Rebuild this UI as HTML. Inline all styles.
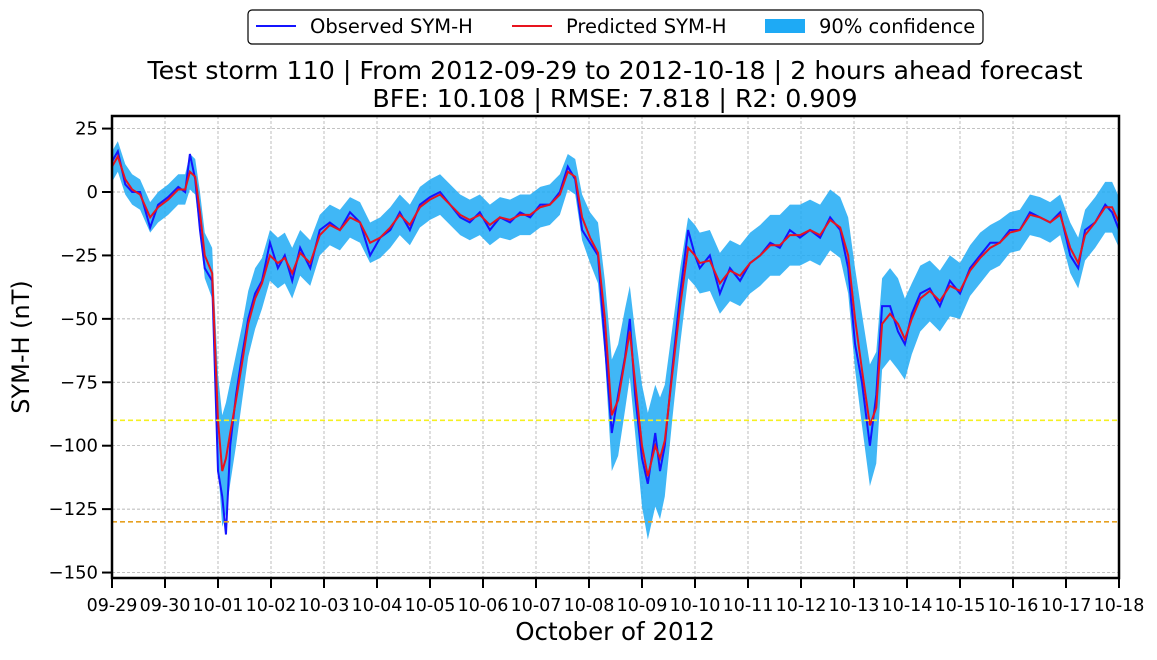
<!DOCTYPE html>
<html><head><meta charset="utf-8"><style>
body{margin:0;background:#fff;width:1157px;height:655px;overflow:hidden;font-family:"Liberation Sans","DejaVu Sans",sans-serif}
</style></head><body>
<svg id="chart" width="1157" height="655" xmlns="http://www.w3.org/2000/svg" font-family="DejaVu Sans, Liberation Sans, sans-serif"></svg>
<script>
const days = [0,.11,.25,.38,.53,.72,.87,1.06,1.25,1.38,1.47,1.57,1.66,1.75,1.89,2.0,2.08,2.15,2.23,2.34,2.45,2.57,2.7,2.83,2.98,3.13,3.26,3.4,3.55,3.74,3.92,4.11,4.3,4.49,4.68,4.87,5.06,5.25,5.43,5.62,5.81,6.0,6.19,6.38,6.57,6.75,6.94,7.13,7.32,7.51,7.7,7.89,8.08,8.26,8.45,8.6,8.74,8.87,9.02,9.17,9.3,9.43,9.55,9.68,9.77,9.87,10.0,10.11,10.25,10.34,10.43,10.57,10.72,10.87,11.0,11.09,11.28,11.47,11.66,11.85,12.04,12.23,12.42,12.6,12.79,12.98,13.17,13.36,13.55,13.74,13.89,14.02,14.15,14.3,14.42,14.53,14.68,14.83,14.96,15.09,15.25,15.43,15.62,15.81,16.0,16.19,16.38,16.57,16.75,16.94,17.13,17.32,17.51,17.7,17.89,18.08,18.23,18.36,18.55,18.74,18.87,19.0];
const observed = [12,16,3,0,0,-14,-5,-2,2,0,15,5,-15,-30,-35,-110,-120,-135,-100,-80,-65,-50,-40,-35,-20,-30,-25,-35,-22,-30,-15,-12,-15,-8,-12,-25,-18,-15,-8,-15,-5,-2,0,-5,-10,-12,-8,-15,-10,-12,-8,-10,-5,-5,0,10,5,-15,-20,-25,-60,-95,-80,-65,-50,-80,-105,-115,-95,-110,-100,-70,-40,-15,-25,-30,-25,-40,-30,-35,-28,-25,-20,-22,-15,-18,-15,-18,-10,-15,-30,-60,-75,-100,-80,-45,-45,-55,-60,-48,-40,-38,-45,-35,-40,-30,-25,-20,-20,-15,-15,-8,-10,-12,-8,-25,-30,-15,-12,-5,-8,-15];
const predicted = [10,14,5,1,-1,-10,-6,-3,1,1,8,6,-8,-25,-32,-90,-110,-105,-95,-82,-68,-52,-42,-36,-25,-28,-26,-32,-24,-28,-17,-13,-15,-10,-12,-20,-18,-14,-9,-13,-6,-3,-1,-5,-9,-11,-9,-13,-10,-11,-9,-9,-6,-5,-1,8,6,-10,-18,-24,-50,-88,-82,-66,-55,-75,-100,-112,-100,-105,-98,-72,-45,-22,-25,-28,-27,-36,-31,-33,-28,-25,-21,-21,-17,-17,-15,-17,-11,-14,-25,-50,-70,-92,-85,-52,-48,-52,-58,-50,-42,-39,-43,-37,-39,-31,-26,-22,-20,-16,-15,-9,-10,-12,-9,-22,-28,-17,-12,-6,-6,-12];
const halfWidth = [6,6,6,6,6,6,6,6,6,6,7,7,8,9,10,18,22,22,20,18,15,13,12,10,10,10,10,10,9,9,8,8,8,8,8,8,8,8,8,8,8,8,8,8,8,8,8,8,8,8,8,8,8,8,8,7,7,9,10,12,15,22,22,20,18,20,24,25,24,24,22,18,15,12,12,12,12,12,12,12,12,12,12,12,12,12,12,12,12,12,15,20,22,24,22,18,18,18,16,14,13,12,12,12,11,10,10,9,9,8,8,8,8,8,8,10,10,10,10,10,10,10];
const yTicks = [25,0,-25,-50,-75,-100,-125,-150];
const xTickLabels = ["09-29","09-30","10-01","10-02","10-03","10-04","10-05","10-06","10-07","10-08","10-09","10-10","10-11","10-12","10-13","10-14","10-15","10-16","10-17","10-18"];
const thresholds = [-90,-130];

const L=112,R=1119,T=116,B=578;
const X=d=>L+(R-L)*d/19;
const Y=v=>192-v*2.537;
const svg=document.getElementById('chart');
const NS='http://www.w3.org/2000/svg';
function mk(tag,attrs,parent){const e=document.createElementNS(NS,tag);for(const k in attrs)e.setAttribute(k,attrs[k]);(parent||svg).appendChild(e);return e;}

xTickLabels.forEach((lab,i)=>{const g=mk('line',{x1:X(i),x2:X(i),y1:T,y2:B,stroke:'#a0a0a0','stroke-width':0.7,'stroke-dasharray':'3,2'});

});
yTicks.forEach(v=>{const g=mk('line',{x1:L,x2:R,y1:Y(v),y2:Y(v),stroke:'#a0a0a0','stroke-width':0.7,'stroke-dasharray':'3,2'});

});

let up=days.map((d,i)=>X(d)+','+Y(predicted[i]+halfWidth[i]));
let lo=days.map((d,i)=>X(d)+','+Y(predicted[i]-halfWidth[i])).reverse();
const band=mk('polygon',{points:up.concat(lo).join(' '),fill:'#1eaaf5',opacity:0.85});



const obs=mk('polyline',{points:days.map((d,i)=>X(d)+','+Y(observed[i])).join(' '),fill:'none',stroke:'#1414ff','stroke-width':2});


const pre=mk('polyline',{points:days.map((d,i)=>X(d)+','+Y(predicted[i])).join(' '),fill:'none',stroke:'#e8141e','stroke-width':2});



const tc=['#f5f020','#e6a020'];
thresholds.forEach((v,i)=>{const l=mk('line',{x1:L,x2:R,y1:Y(v),y2:Y(v),stroke:tc[i],'stroke-width':1.6,'stroke-dasharray':'5,3'});

});

const fr=mk('rect',{x:L,y:T,width:R-L,height:B-T,fill:'none',stroke:'#000','stroke-width':2.5});



yTicks.forEach(v=>{mk('line',{x1:L-10,x2:L,y1:Y(v),y2:Y(v),stroke:'#000','stroke-width':2});
const t=mk('text',{x:L-14,y:Y(v)+6,'text-anchor':'end','font-size':18});t.textContent=v<0?'\u2212'+(-v):v;

});
xTickLabels.forEach((lab,i)=>{mk('line',{x1:X(i),x2:X(i),y1:B,y2:B+10,stroke:'#000','stroke-width':2});
const t=mk('text',{x:X(i),y:B+33,'text-anchor':'middle','font-size':17.5});t.textContent=lab;

});
</script>
<svg style="position:absolute;left:0;top:0" width="1157" height="655" font-family="DejaVu Sans, Liberation Sans, sans-serif">
<text x="615" y="79" text-anchor="middle" font-size="25.3">Test storm 110 | From 2012-09-29 to 2012-10-18 | 2 hours ahead forecast</text>
<text x="615" y="107" text-anchor="middle" font-size="25.3">BFE: 10.108 | RMSE: 7.818 | R2: 0.909</text>
<text x="615" y="640" text-anchor="middle" font-size="24.5">October of 2012</text>
<text transform="translate(29,347) rotate(-90)" text-anchor="middle" font-size="24">SYM-H (nT)</text>
<g>
<rect x="248" y="10" width="735" height="34" rx="4" fill="#fff" stroke="#000" stroke-width="1.2"/>
<line x1="256" y1="26" x2="296" y2="26" stroke="#1414ff" stroke-width="2"/>
<text x="310" y="33" font-size="19.5">Observed SYM-H</text>
<line x1="512" y1="26" x2="552" y2="26" stroke="#e8141e" stroke-width="2"/>
<text x="566" y="33" font-size="19.5">Predicted SYM-H</text>
<rect x="765" y="19" width="40" height="14" fill="#1eaaf5"/>
<text x="819" y="33" font-size="19.5">90% confidence</text>
</g>
</svg>
</body></html>
